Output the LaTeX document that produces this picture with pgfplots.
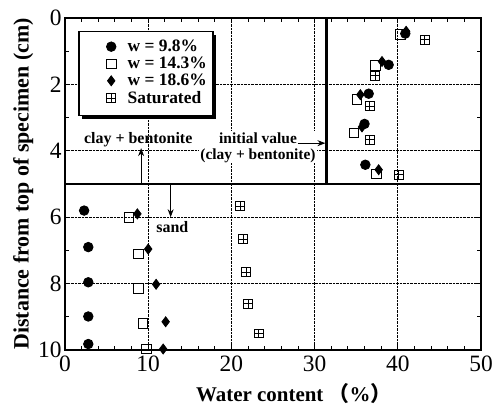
\documentclass[border=0pt]{standalone}
\usepackage{pgfplots}
\pgfplotsset{compat=1.18}
\usepackage{fontspec}
\setmainfont{Liberation Serif}
\newfontfamily\cjk{Noto Sans CJK JP}
\usetikzlibrary{shadows,arrows.meta}

% square with a cross inside (saturated specimen)
\pgfdeclareplotmark{boxplus}{%
  \pgfpathrectangle{\pgfpoint{-\pgfplotmarksize}{-\pgfplotmarksize}}{\pgfpoint{2\pgfplotmarksize}{2\pgfplotmarksize}}%
  \pgfpathmoveto{\pgfpoint{-\pgfplotmarksize}{0pt}}\pgfpathlineto{\pgfpoint{\pgfplotmarksize}{0pt}}%
  \pgfpathmoveto{\pgfpoint{0pt}{-\pgfplotmarksize}}\pgfpathlineto{\pgfpoint{0pt}{\pgfplotmarksize}}%
  \pgfusepathqstroke}

\pgfplotsset{lg/.style={legend image code/.code={%
    \path (-3bp,0bp) (14bp,0bp);
    \draw[##1] plot coordinates {(0bp,0bp)};}}}

\begin{document}
\begin{tikzpicture}
\begin{axis}[
    width=416bp, height=332bp, scale only axis,
    xmin=0, xmax=50, ymin=0, ymax=10, y dir=reverse,
    xtick={0,10,...,50}, ytick={0,2,...,10},
    minor x tick num=4, minor y tick num=1,
    tick align=inside, major tick length=5bp, minor tick length=4bp,
    every tick/.style={black, line width=0.9pt},
    grid=major, grid style={densely dotted, black, line width=0.8pt},
    axis line style={line width=1.3pt},
    tick label style={font=\fontsize{23.5}{23.5}\selectfont},
    xticklabel style={yshift=-2bp},
    /pgf/number format/assume math mode=true,
    clip=false,
    xlabel={Water content {\cjk （}\%{\cjk ）}},
    ylabel={Distance from top of specimen (cm)},
    xlabel style={font=\fontsize{21}{21}\selectfont\bfseries,
        at={(ticklabel cs:0.55)}, anchor=near ticklabel, yshift=-5bp},
    ylabel style={font=\fontsize{22}{22}\selectfont\bfseries, yshift=-2bp},
    legend style={at={(0.092,0.946)}, anchor=north west,
        draw=none, fill=none,
        font=\fontsize{17.5}{18}\selectfont\bfseries,
        cells={anchor=west}},
    every axis plot/.append style={line width=0.8pt},
]
% legend frame with its shadow
\draw[line width=1.5pt, fill=white,
      drop shadow={shadow xshift=3bp, shadow yshift=-3bp, fill=black, opacity=1}]
  (axis cs:1.68,0.41) rectangle (axis cs:17.8,2.94);

\addplot[only marks, mark=*, mark size=4.8pt, fill=black, lg] coordinates {
  (40.9,0.47) (38.9,1.41) (36.5,2.28) (36.0,3.19) (36.1,4.42)
  (2.3,5.8) (2.8,6.9) (2.8,7.96) (2.8,8.99) (2.8,9.82)
};
\addlegendentry{w = 9.8\%}
\addplot[only marks, mark=square, mark size=4.8pt, lg] coordinates {
  (40.3,0.5) (37.3,1.43) (35.1,2.46) (34.7,3.46) (37.4,4.7)
  (7.7,6.0) (8.8,7.1) (8.8,8.15) (9.35,9.2) (9.8,9.97)
};
\addlegendentry{w = 14.3\%}
\addplot[only marks, mark=diamond*, mark size=5pt, fill=black, lg] coordinates {
  (41.0,0.4) (38.1,1.31) (35.5,2.31) (35.7,3.28) (37.7,4.57)
  (8.7,5.9) (10.0,6.96) (10.95,8.02) (12.1,9.15) (11.8,9.97)
};
\addlegendentry{w = 18.6\%}
\addplot[only marks, mark=boxplus, mark size=4.5pt, lg] coordinates {
  (43.2,0.65) (37.3,1.73) (36.6,2.66) (36.6,3.67) (40.1,4.72)
  (21.06,5.67) (21.4,6.66) (21.8,7.66) (22.0,8.6) (23.3,9.5)
};
\addlegendentry{Saturated}

% boundary between clay+bentonite and sand, initial water content
\addplot[forget plot, line width=1.8pt, mark=none] coordinates {(0,5) (50,5)};
\addplot[forget plot, line width=2.6pt, mark=none] coordinates {(31.4,0) (31.4,5)};

\node[font=\fontsize{16}{16}\selectfont\bfseries] at (axis cs:8.8,3.67) {clay + bentonite};
\draw[-{Stealth[length=8bp,width=6bp]}, line width=1pt] (axis cs:9.15,5) -- (axis cs:9.15,3.92);
\draw[-{Stealth[length=8bp,width=6bp]}, line width=1pt] (axis cs:12.7,5) -- (axis cs:12.7,6.0);
\node[font=\fontsize{16}{16}\selectfont\bfseries] at (axis cs:12.9,6.3) {sand};
\node[font=\fontsize{15.5}{16}\selectfont\bfseries, align=center, fill=white, inner sep=1bp]
  at (axis cs:23.2,3.9) {initial value\\(clay + bentonite)};
\draw[-{Stealth[length=8bp,width=6bp]}, line width=1pt] (axis cs:28.0,3.77) -- (axis cs:31.3,3.77);
\end{axis}
\pgfresetboundingbox
\path ([shift={(-65bp,-55bp)}]current axis.south west) rectangle ([shift={(12bp,18bp)}]current axis.north east);
\end{tikzpicture}
\end{document}
